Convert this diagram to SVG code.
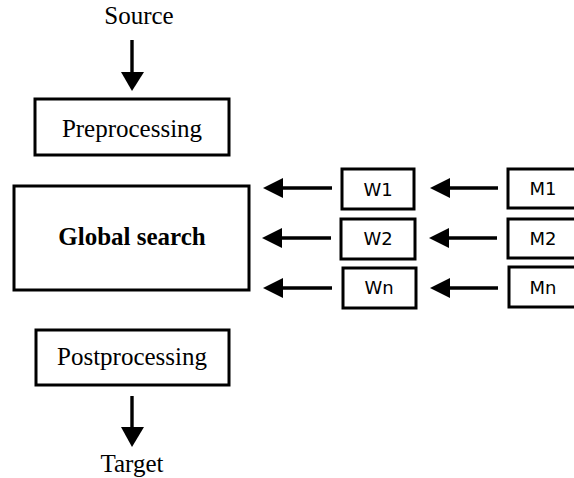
<svg xmlns="http://www.w3.org/2000/svg" width="574" height="478" viewBox="0 0 574 478">
<defs>
<style>
.box{fill:#fff;stroke:#000;stroke-width:3}
.serif{font-family:"Liberation Serif","Times New Roman",serif;font-size:25px;fill:#000;text-anchor:middle}
.sans{font-family:"DejaVu Sans",sans-serif;font-size:18px;fill:#000;text-anchor:middle}
.conn{stroke:#000;stroke-width:3.4;fill:none}
.head{fill:#000}
</style>
</defs>
<rect width="574" height="478" fill="#fff"/>
<text class="serif" x="139" y="24">Source</text>
<text class="serif" x="132" y="472">Target</text>
<g id="preprocessing">
<rect class="box" x="35" y="99" width="194" height="56"/>
<text class="serif" x="132" y="137">Preprocessing</text>
</g>
<g id="global-search">
<rect class="box" x="14" y="186" width="235" height="104"/>
<text class="serif" x="132" y="245" font-weight="bold">Global search</text>
</g>
<g id="postprocessing">
<rect class="box" x="36" y="330" width="193" height="55"/>
<text class="serif" x="132" y="365">Postprocessing</text>
</g>
<g id="w1"><rect class="box" x="342" y="169" width="72" height="40"/><text class="sans" x="378" y="196">W1</text></g>
<g id="w2"><rect class="box" x="341" y="219" width="74" height="40"/><text class="sans" x="378" y="245">W2</text></g>
<g id="wn"><rect class="box" x="343" y="268" width="73" height="40"/><text class="sans" x="379" y="294">Wn</text></g>
<g id="m1"><rect class="box" x="508" y="169" width="70" height="39"/><text class="sans" x="543" y="195">M1</text></g>
<g id="m2"><rect class="box" x="508" y="219" width="70" height="39"/><text class="sans" x="543" y="245">M2</text></g>
<g id="mn"><rect class="box" x="509" y="267" width="70" height="40"/><text class="sans" x="543" y="294">Mn</text></g>
<g id="connectors">
<line class="conn" x1="132" y1="40" x2="132" y2="75"/>
<polygon class="head" points="121,72 144,72 132,91"/>
<line class="conn" x1="132" y1="396" x2="132" y2="430"/>
<polygon class="head" points="121,427 144,427 132,447"/>
<line class="conn" x1="280" y1="188" x2="332" y2="188"/>
<polygon class="head" points="263,188 283,178 283,198"/>
<line class="conn" x1="280" y1="238" x2="331" y2="238"/>
<polygon class="head" points="262,238 282,228 282,248"/>
<line class="conn" x1="280" y1="288" x2="332" y2="288"/>
<polygon class="head" points="263,288 283,278 283,298"/>
<line class="conn" x1="447" y1="188" x2="498" y2="188"/>
<polygon class="head" points="430,188 450,178 450,198"/>
<line class="conn" x1="446" y1="238" x2="497" y2="238"/>
<polygon class="head" points="429,238 449,228 449,248"/>
<line class="conn" x1="447" y1="288" x2="498" y2="288"/>
<polygon class="head" points="430,288 450,278 450,298"/>
</g>
</svg>
